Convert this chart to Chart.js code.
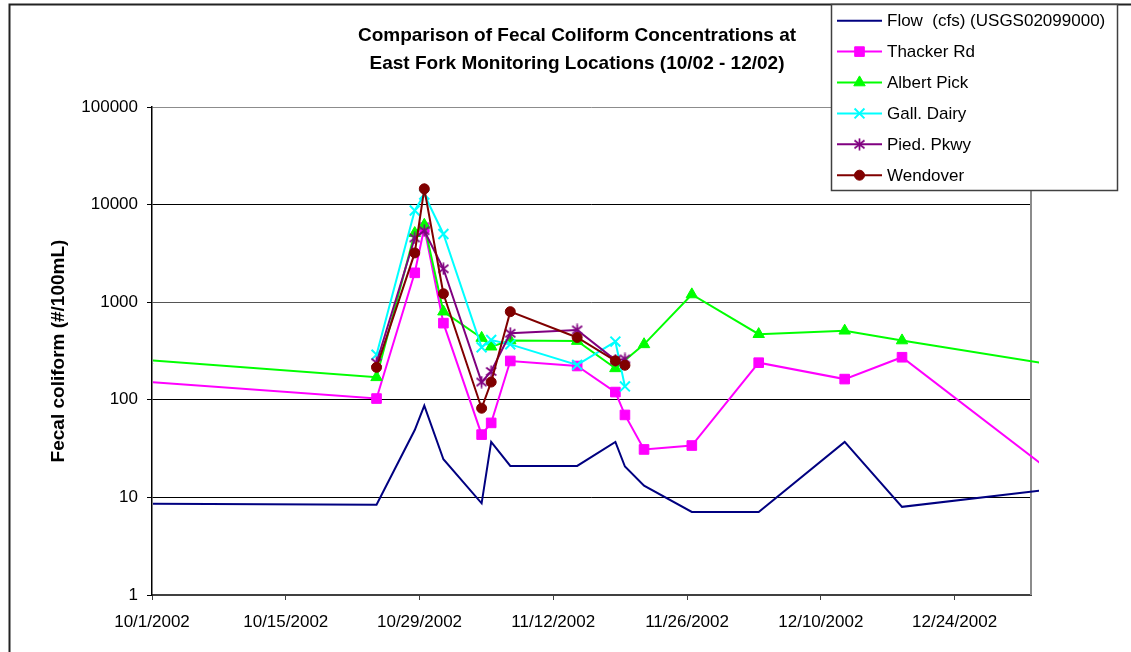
<!DOCTYPE html>
<html>
<head>
<meta charset="utf-8">
<script src="https://cdn.jsdelivr.net/npm/chart.js@4/dist/chart.umd.min.js"></script>
<style>
html,body{margin:0;padding:0;background:#fff;}
canvas{display:block;}
</style>
</head>
<body>
<canvas id="c" width="1131" height="652"></canvas>
<script>
// ---------- DATA ----------
const titleLines = ['Comparison of Fecal Coliform Concentrations at', 'East Fork Monitoring Locations (10/02 - 12/02)'];
const yAxisTitle = 'Fecal coliform (#/100mL)';
const seriesNames = ['Flow  (cfs) (USGS02099000)', 'Thacker Rd', 'Albert Pick', 'Gall. Dairy', 'Pied. Pkwy', 'Wendover'];
const xTickLabels = ['10/1/2002', '10/15/2002', '10/29/2002', '11/12/2002', '11/26/2002', '12/10/2002', '12/24/2002'];
const yTickValues = [1, 10, 100, 1000, 10000, 100000];
const axisStart = '10/1/2002';
const axisEnd = '1/1/2003';

const flowDates = ['9/30/2002','10/24/2002','10/28/2002','10/29/2002','10/31/2002','11/4/2002','11/5/2002','11/7/2002','11/14/2002','11/18/2002','11/19/2002','11/21/2002','11/26/2002','12/3/2002','12/12/2002','12/18/2002','1/2/2003'];
const flowValues = [8.6, 8.4, 49, 87, 24.6, 8.7, 37, 21, 21, 37, 20.7, 13.2, 7.1, 7.1, 37, 8.0, 11.9];

const thackerDates = ['9/30/2002','10/24/2002','10/28/2002','10/29/2002','10/31/2002','11/4/2002','11/5/2002','11/7/2002','11/14/2002','11/18/2002','11/19/2002','11/21/2002','11/26/2002','12/3/2002','12/12/2002','12/18/2002','1/2/2003'];
const thackerValues = [153, 103, 2000, 5800, 610, 44, 58, 250, 222, 120, 70, 31, 34, 240, 163, 273, 20.4];

const albertDates = ['9/30/2002','10/24/2002','10/28/2002','10/29/2002','10/31/2002','11/4/2002','11/5/2002','11/7/2002','11/14/2002','11/18/2002','11/21/2002','11/26/2002','12/3/2002','12/12/2002','12/18/2002','1/2/2003'];
const albertValues = [255, 170, 5100, 6200, 800, 430, 350, 405, 400, 210, 370, 1200, 470, 510, 405, 236];

const gallDates = ['10/24/2002','10/28/2002','10/29/2002','10/31/2002','11/4/2002','11/5/2002','11/7/2002','11/14/2002','11/18/2002','11/19/2002'];
const gallValues = [290, 8700, 12700, 5000, 345, 410, 370, 228, 395, 137];

const piedDates = ['10/24/2002','10/28/2002','10/29/2002','10/31/2002','11/4/2002','11/5/2002','11/7/2002','11/14/2002','11/18/2002','11/19/2002'];
const piedValues = [240, 4550, 5400, 2200, 152, 195, 480, 520, 255, 262];

const wendoverDates = ['10/24/2002','10/28/2002','10/29/2002','10/31/2002','11/4/2002','11/5/2002','11/7/2002','11/14/2002','11/18/2002','11/19/2002'];
const wendoverValues = [215, 3200, 14500, 1220, 82, 152, 800, 435, 251, 226];

// ---------- HELPERS ----------
const FONT = '"Liberation Sans", Arial, Helvetica, sans-serif';
function utc(s){ const p = s.split('/').map(Number); return Date.UTC(p[2], p[0]-1, p[1]); }
const base = utc(axisStart);
function dayNum(s){ return (utc(s) - base) / 86400000; }
// Excel date axis plots each value in the middle of its day
function series(dates, values){ return dates.map((d, i) => ({x: dayNum(d) + 0.5, y: values[i]})); }

function starMarker(color){
  const c = document.createElement('canvas'); c.width = 13; c.height = 13;
  const g = c.getContext('2d'); g.strokeStyle = color; g.lineWidth = 1.7;
  g.beginPath();
  g.moveTo(6.5, 0.5); g.lineTo(6.5, 12.5);
  g.moveTo(1.5, 2.5); g.lineTo(11.5, 10.5);
  g.moveTo(1.5, 10.5); g.lineTo(11.5, 2.5);
  g.stroke();
  return c;
}
const purpleStar = starMarker('#800080');

const clipArea = {left: -1, top: 0, right: 8, bottom: 0};

function drawMarker(ctx, ds, x, y){
  const style = ds.pointStyle, r = ds.pointRadius, col = ds.pointBackgroundColor;
  if (!style || r === 0) return;
  ctx.save();
  ctx.fillStyle = col; ctx.strokeStyle = ds.pointBorderColor; ctx.lineWidth = ds.pointBorderWidth;
  if (style instanceof HTMLCanvasElement){
    ctx.drawImage(style, x - style.width/2, y - style.height/2);
  } else if (style === 'rect'){
    const s = r * Math.SQRT1_2;
    ctx.beginPath(); ctx.rect(x - s, y - s, 2*s, 2*s); ctx.fill(); ctx.stroke();
  } else if (style === 'triangle'){
    ctx.beginPath();
    let a = 0;
    ctx.moveTo(x + Math.sin(a)*r, y - Math.cos(a)*r);
    a += 2*Math.PI/3; ctx.lineTo(x + Math.sin(a)*r, y - Math.cos(a)*r);
    a += 2*Math.PI/3; ctx.lineTo(x + Math.sin(a)*r, y - Math.cos(a)*r);
    ctx.closePath(); ctx.fill(); ctx.stroke();
  } else if (style === 'crossRot'){
    const o = Math.cos(Math.PI/4) * r;
    ctx.beginPath();
    ctx.moveTo(x - o, y - o); ctx.lineTo(x + o, y + o);
    ctx.moveTo(x - o, y + o); ctx.lineTo(x + o, y - o);
    ctx.stroke();
  } else if (style === 'circle'){
    ctx.beginPath(); ctx.arc(x, y, r, 0, Math.PI*2); ctx.fill(); ctx.stroke();
  }
  ctx.restore();
}

const decor = {
  id: 'decor',
  beforeDraw(chart){
    const c = chart.ctx;
    c.save();
    c.fillStyle = '#fff'; c.fillRect(0, 0, chart.width, chart.height);
    c.strokeStyle = '#222'; c.lineWidth = 2;
    c.beginPath(); c.moveTo(9.5, chart.height + 5); c.lineTo(9.5, 4.5); c.lineTo(chart.width + 5, 4.5); c.stroke();
    c.restore();
  },
  beforeDatasetsDraw(chart){
    const c = chart.ctx, a = chart.chartArea;
    c.save();
    c.strokeStyle = '#8c8c8c'; c.lineWidth = 2;
    c.beginPath(); c.moveTo(a.right, a.top); c.lineTo(a.right, a.bottom); c.stroke();
    c.restore();
  },
  afterDraw(chart){
    const c = chart.ctx, a = chart.chartArea;
    c.save();
    // title
    c.fillStyle = '#000'; c.font = 'bold 19px ' + FONT; c.textAlign = 'center'; c.textBaseline = 'alphabetic';
    c.fillText(titleLines[0], 577, 41);
    c.fillText(titleLines[1], 577, 69);
    // y axis title
    c.save();
    c.translate(59, (a.top + a.bottom)/2); c.rotate(-Math.PI/2);
    c.textBaseline = 'middle'; c.fillText(yAxisTitle, 0, 0);
    c.restore();
    // legend
    const lx = 831.5, ly = 4.5, lw = 286, lh = 186;
    c.fillStyle = '#fff'; c.fillRect(lx, ly, lw, lh);
    c.strokeStyle = '#404040'; c.lineWidth = 1.5; c.strokeRect(lx, ly, lw, lh);
    c.font = '17px ' + FONT; c.textAlign = 'left'; c.textBaseline = 'middle';
    chart.data.datasets.forEach((ds, i) => {
      const y = 20.7 + i * 30.9;
      c.strokeStyle = ds.borderColor; c.lineWidth = ds.borderWidth;
      c.beginPath(); c.moveTo(837, y); c.lineTo(882, y); c.stroke();
      drawMarker(c, ds, 859.5, y);
      c.fillStyle = '#000'; c.fillText(ds.label, 887, y + 1);
    });
    c.restore();
  }
};

const common = {borderWidth: 2, tension: 0, clip: clipArea, pointHoverRadius: 0};

new Chart(document.getElementById('c'), {
  type: 'line',
  data: {
    datasets: [
      Object.assign({}, common, {label: seriesNames[0], data: series(flowDates, flowValues), borderColor: '#000080', backgroundColor: '#000080', pointRadius: 0, pointStyle: false, order: 6}),
      Object.assign({}, common, {label: seriesNames[1], data: series(thackerDates, thackerValues), borderColor: '#ff00ff', backgroundColor: '#ff00ff', pointStyle: 'rect', pointRadius: 6.8, pointBackgroundColor: '#ff00ff', pointBorderColor: '#ff00ff', pointBorderWidth: 1, order: 5}),
      Object.assign({}, common, {label: seriesNames[2], data: series(albertDates, albertValues), borderColor: '#00ff00', backgroundColor: '#00ff00', pointStyle: 'triangle', pointRadius: 6.6, pointBackgroundColor: '#00ff00', pointBorderColor: '#00ff00', pointBorderWidth: 1, order: 4}),
      Object.assign({}, common, {label: seriesNames[3], data: series(gallDates, gallValues), borderColor: '#00ffff', backgroundColor: '#00ffff', pointStyle: 'crossRot', pointRadius: 7, pointBackgroundColor: '#00ffff', pointBorderColor: '#00ffff', pointBorderWidth: 2, order: 3}),
      Object.assign({}, common, {label: seriesNames[4], data: series(piedDates, piedValues), borderColor: '#800080', backgroundColor: '#800080', pointStyle: purpleStar, pointRadius: 6, pointBackgroundColor: '#800080', pointBorderColor: '#800080', pointBorderWidth: 1, order: 2}),
      Object.assign({}, common, {label: seriesNames[5], data: series(wendoverDates, wendoverValues), borderColor: '#800000', backgroundColor: '#800000', pointStyle: 'circle', pointRadius: 5, pointBackgroundColor: '#800000', pointBorderColor: '#800000', pointBorderWidth: 1, order: 1})
    ]
  },
  options: {
    responsive: false,
    animation: false,
    devicePixelRatio: 1,
    events: [],
    font: {family: FONT},
    layout: {padding: {top: 107, right: 100, left: 0, bottom: 0}},
    plugins: {legend: {display: false}, title: {display: false}, tooltip: {enabled: false}},
    scales: {
      x: {
        type: 'linear', min: 0, max: dayNum(axisEnd),
        afterBuildTicks: s => { s.ticks = xTickLabels.map(l => ({value: dayNum(l)})); },
        afterFit: s => { s.height = 57; },
        ticks: {callback: (v, i) => xTickLabels[i], autoSkip: false, maxRotation: 0, minRotation: 0, padding: 12, color: '#000', font: {size: 17, family: FONT}},
        grid: {drawOnChartArea: false, tickLength: 5, color: '#404040', tickColor: '#404040'},
        border: {color: '#404040', width: 2}
      },
      y: {
        type: 'logarithmic', min: 1, max: 100000,
        afterBuildTicks: s => { s.ticks = yTickValues.map(v => ({value: v})); },
        afterFit: s => { s.width = 152; },
        ticks: {callback: (v, i) => String(yTickValues[i]), padding: 9, color: '#000', font: {size: 17, family: FONT}},
        grid: {
          tickLength: 5, tickColor: '#000', lineWidth: 1,
          color: ctx => {
            const v = ctx.tick ? ctx.tick.value : 0;
            if (v === 1) return 'rgba(0,0,0,0)';
            if (v === 100000) return '#8c8c8c';
            if (v === 1000) return '#555';
            return '#000';
          }
        },
        border: {color: '#000', width: 1.5}
      }
    }
  },
  plugins: [decor]
});
</script>
</body>
</html>
